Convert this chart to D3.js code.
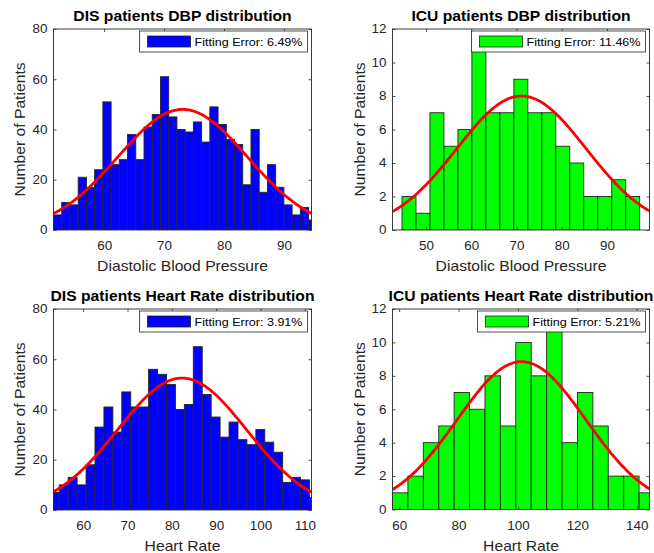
<!DOCTYPE html>
<html>
<head>
<meta charset="utf-8">
<script src="https://cdn.jsdelivr.net/npm/d3@7"></script>
<style>
  html, body { margin: 0; padding: 0; background: #fff; }
  svg { display: block; font-family: "Liberation Sans", Arial, Helvetica, sans-serif; }
</style>
</head>
<body>
<svg id="chart" width="654" height="553"></svg>
<script>
// ---------------- DATA ----------------
const titles = [
  "DIS patients DBP distribution",
  "ICU patients DBP distribution",
  "DIS patients Heart Rate distribution",
  "ICU patients Heart Rate distribution"
];
const xLabels = ["Diastolic Blood Pressure", "Diastolic Blood Pressure", "Heart Rate", "Heart Rate"];
const yLabel = "Number of Patients";
const fitErrors = ["Fitting Error: 6.49%", "Fitting Error: 11.46%", "Fitting Error: 3.91%", "Fitting Error: 5.21%"];

// histogram counts
const disDbpCounts = [6, 11, 10, 21, 17, 24, 51, 26, 28, 38, 28, 41, 46, 61, 45, 40, 39, 43, 35, 49, 42, 36, 34, 18, 40, 15, 26, 17, 10, 6, 9, 4];
const icuDbpCounts = [2, 1, 7, 5, 6, 11, 7, 7, 9, 7, 7, 5, 4, 2, 2, 3, 2];
const disHrCounts  = [7, 10, 13, 10, 18, 33, 41, 31, 47, 41, 41, 56, 54, 50, 40, 42, 65, 46, 37, 29, 35, 28, 26, 32, 27, 23, 11, 13, 12, 5];
const icuHrCounts  = [1, 2, 4, 5, 7, 6, 8, 5, 10, 8, 11, 4, 7, 5, 2, 2, 1];

// first bin edge and bin width (data units)
const disDbpBins = [51.55, 1.373];
const icuDbpBins = [44.7, 3.09];
const disHrBins  = [52.58, 2.016];
const icuHrBins  = [57.75, 5.19];

// x-axis limits
const disDbpXLim = [51.55, 94.6];
const icuDbpXLim = [42.6, 99.4];
const disHrXLim  = [53.3, 111.5];
const icuHrXLim  = [57.75, 144.3];

// y-axis limits
const disYLim = [0, 80];
const icuYLim = [0, 12];

// tick values
const disDbpXTicks = [60, 70, 80, 90];
const icuDbpXTicks = [50, 60, 70, 80, 90];
const disHrXTicks  = [60, 70, 80, 90, 100, 110];
const icuHrXTicks  = [60, 80, 100, 120, 140];
const disYTicks = [0, 20, 40, 60, 80];
const icuYTicks = [0, 2, 4, 6, 8, 10, 12];

// fitted normal curves: [mean, sigma, peak height]
const disDbpFit = [73.1, 10.8, 48.0];
const icuDbpFit = [71.1, 14.3, 8.0];
const disHrFit  = [82.3, 14.6, 52.5];
const icuHrFit  = [101.2, 21.7, 8.85];

const barColors = ["#0000ff", "#00ff00", "#0000ff", "#00ff00"];

// ---------------- LAYOUT ----------------
const panels = [
  { box: [53.5, 29, 311.5, 230], counts: disDbpCounts, bins: disDbpBins, xlim: disDbpXLim, ylim: disYLim, xt: disDbpXTicks, yt: disYTicks, fit: disDbpFit, ylx: 20 },
  { box: [392.5, 29, 649.5, 230], counts: icuDbpCounts, bins: icuDbpBins, xlim: icuDbpXLim, ylim: icuYLim, xt: icuDbpXTicks, yt: icuYTicks, fit: icuDbpFit, ylx: 360 },
  { box: [53.5, 309, 311.5, 510], counts: disHrCounts, bins: disHrBins, xlim: disHrXLim, ylim: disYLim, xt: disHrXTicks, yt: disYTicks, fit: disHrFit, ylx: 20 },
  { box: [392.5, 309, 649.5, 509.5], counts: icuHrCounts, bins: icuHrBins, xlim: icuHrXLim, ylim: icuYLim, xt: icuHrXTicks, yt: icuYTicks, fit: icuHrFit, ylx: 360 }
];

const svg = d3.select("#chart");
const axisColor = "#262626";
const SX = 1.12; // horizontal glyph stretch of the original rendering

// put text's x/y into a transform and stretch it horizontally around its anchor
function stretch(sel, extraRotate) {
  sel.each(function () {
    const t = d3.select(this);
    const tx = +t.attr("x") || 0, ty = +t.attr("y") || 0;
    t.attr("x", 0).attr("y", 0)
      .attr("transform", `translate(${tx},${ty})` + (extraRotate ? ` rotate(${extraRotate})` : "") + ` scale(${SX},1)`);
  });
}

panels.forEach((p, i) => {
  const [x0, y0, x1, y1] = p.box;
  const x = d3.scaleLinear().domain(p.xlim).range([x0, x1]);
  const y = d3.scaleLinear().domain(p.ylim).range([y1, y0]);
  const g = svg.append("g");

  const clipId = "clip" + i;
  svg.append("clipPath").attr("id", clipId)
    .append("rect").attr("x", x0).attr("y", y0).attr("width", x1 - x0).attr("height", y1 - y0);

  // bars
  const [bStart, bW] = p.bins;
  const bars = p.counts.map((c, k) => ({ lo: bStart + k * bW, hi: bStart + (k + 1) * bW, c }));
  g.append("g").attr("clip-path", `url(#${clipId})`)
    .selectAll("rect").data(bars).join("rect")
    .attr("x", d => x(d.lo))
    .attr("y", d => y(d.c))
    .attr("width", d => x(d.hi) - x(d.lo))
    .attr("height", d => y(0) - y(d.c))
    .attr("fill", barColors[i])
    .attr("stroke", "#262626")
    .attr("stroke-width", 0.9);

  // fitted curve
  const [mu, sd, pk] = p.fit;
  const xs = d3.range(0, 201).map(k => p.xlim[0] + (p.xlim[1] - p.xlim[0]) * k / 200);
  const line = d3.line().x(d => x(d)).y(d => y(pk * Math.exp(-((d - mu) ** 2) / (2 * sd * sd))));
  g.append("path").attr("clip-path", `url(#${clipId})`)
    .datum(xs).attr("d", line)
    .attr("fill", "none").attr("stroke", "#ff0000").attr("stroke-width", 2.8);

  // axes
  const styleAxis = sel => {
    sel.select(".domain").remove();
    sel.selectAll(".tick line").attr("stroke", axisColor).attr("stroke-width", 0.8);
    sel.selectAll(".tick text").attr("fill", axisColor).attr("font-size", 12)
      .attr("font-family", '"Liberation Sans", Arial, Helvetica, sans-serif');
  };
  const bx = g.append("g").attr("transform", `translate(0,${y1})`)
    .call(d3.axisBottom(x).tickValues(p.xt).tickSize(-3).tickPadding(11.5).tickFormat(d3.format("d")))
    .call(styleAxis);
  bx.selectAll(".tick text").call(stretch);
  g.append("g").attr("transform", `translate(0,${y0})`)
    .call(d3.axisTop(x).tickValues(p.xt).tickSize(-3).tickFormat(""))
    .call(styleAxis);
  const ly = g.append("g").attr("transform", `translate(${x0},0)`)
    .call(d3.axisLeft(y).tickValues(p.yt).tickSize(-3).tickPadding(6).tickFormat(d3.format("d")))
    .call(styleAxis);
  ly.selectAll(".tick text").call(stretch);
  g.append("g").attr("transform", `translate(${x1},0)`)
    .call(d3.axisRight(y).tickValues(p.yt).tickSize(-3).tickFormat(""))
    .call(styleAxis);

  // box
  g.append("rect").attr("x", x0).attr("y", y0).attr("width", x1 - x0).attr("height", y1 - y0)
    .attr("fill", "none").attr("stroke", axisColor).attr("stroke-width", 0.9);

  // title
  g.append("text").attr("x", (x0 + x1) / 2).attr("y", y0 - 8)
    .attr("text-anchor", "middle").attr("font-weight", "bold").attr("font-size", 14)
    .attr("fill", "#000").text(titles[i]).call(stretch);

  // x label
  g.append("text").attr("x", (x0 + x1) / 2).attr("y", y1 + 41)
    .attr("text-anchor", "middle").attr("font-size", 14).attr("fill", axisColor).text(xLabels[i]).call(stretch);

  // y label
  g.append("text").attr("x", p.ylx).attr("y", (y0 + y1) / 2)
    .attr("text-anchor", "middle").attr("dy", "0.35em").attr("font-size", 14).attr("fill", axisColor)
    .text(yLabel).call(stretch, -90);

  // legend
  const lg = g.append("g");
  const lt = lg.append("text").attr("font-size", 11.2).attr("fill", "#000").text(fitErrors[i]);
  const tw = lt.node().getComputedTextLength() * SX;
  const lh = 21, sw = 43;
  const lw = 8 + sw + 4 + tw + 5;
  const lx = x1 - 4 - lw, lyy = y0 + 2;
  lg.insert("rect", "text").attr("x", lx).attr("y", lyy).attr("width", lw).attr("height", lh)
    .attr("fill", "#fff").attr("stroke", axisColor).attr("stroke-width", 0.8);
  lg.insert("rect", "text").attr("x", lx + 8).attr("y", lyy + 5).attr("width", sw).attr("height", lh - 10)
    .attr("fill", barColors[i]).attr("stroke", "#262626").attr("stroke-width", 0.8);
  lt.attr("x", lx + 8 + sw + 4).attr("y", lyy + lh / 2 + 4).call(stretch);
});
</script>
</body>
</html>
